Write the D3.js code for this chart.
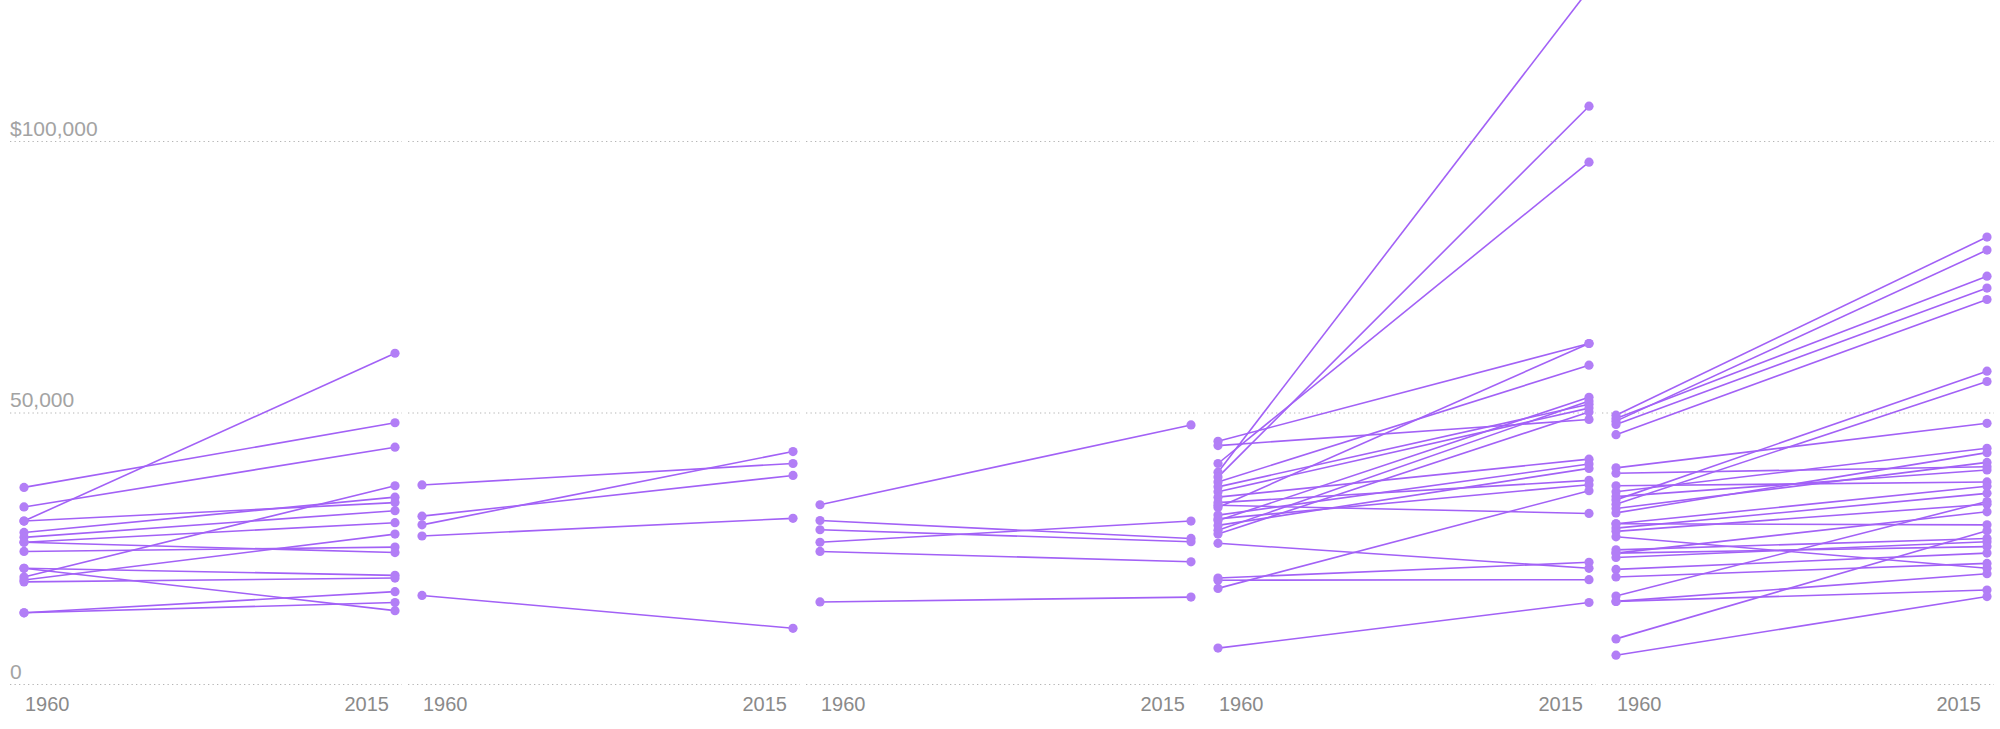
<!DOCTYPE html>
<html>
<head>
<meta charset="utf-8">
<script src="https://cdn.jsdelivr.net/npm/d3@7"></script>
<style>
  html, body { margin: 0; padding: 0; background: #fff; }
  svg { display: block; }
</style>
</head>
<body>
<svg id="chart" width="2000" height="729"></svg>
<script>
// ---- data ----
const years = [1960, 2015];
const yTicks = [0, 50000, 100000];
const yTickLabels = ["0", "50,000", "$100,000"];

const panel1From = [36300, 32700, 30100, 30100, 28000, 27100, 26200, 26200, 24500, 21400, 21400, 19800, 19250, 18900, 13200, 13200];
const panel1To   = [48200, 43700, 61000, 33500, 34500, 32000, 29800, 24300, 25300, 20100, 13600, 36600, 27700, 19600, 17100, 15100];

const panel2From = [36750, 31000, 29400, 27350, 16400];
const panel2To   = [40700, 38500, 42900, 30600, 10350];

const panel3From = [33100, 30200, 28500, 26200, 24500, 15200];
const panel3To   = [47800, 26900, 26300, 30100, 22600, 16100];

const panel4From = [39100, 38200, 40700, 44800, 32600, 37300, 30200, 28400, 36400, 35500, 27700, 44000, 34500, 31200, 29300, 33500, 30500, 17700, 33000, 26000, 19600, 19200, 6700];
const panel4To   = [128000, 106500, 96200, 62800, 62800, 58800, 52900, 52200, 51600, 50900, 50200, 48800, 41500, 40600, 39800, 37600, 36800, 35700, 31500, 21400, 22500, 19300, 15100];

const panel5From = [49600, 48500, 49000, 47900, 46000, 34000, 33200, 39900, 35500, 31600, 32400, 38900, 34600, 36600, 29600, 28800, 16300, 28200, 24200, 29600, 8400, 27200, 24800, 23400, 24200, 21200, 19800, 15300, 15300, 5400];
const panel5To   = [82400, 80000, 75200, 73000, 70900, 57700, 55800, 48100, 43500, 42700, 40900, 40100, 39500, 37300, 36500, 35200, 33700, 33200, 31800, 29400, 28300, 21400, 26900, 26300, 25400, 24200, 22300, 20400, 17400, 16200];

const panels = [
  [panel1From, panel1To],
  [panel2From, panel2To],
  [panel3From, panel3To],
  [panel4From, panel4To],
  [panel5From, panel5To]
];

// ---- layout ----
const svg = d3.select("#chart");
const panelX = d3.scaleLinear().domain([0, 1]).range([10, 408]);
const panelW = 392;
const y = d3.scaleLinear().domain([0, 50000]).range([684.5, 413]);

const lineColor = "#a261f6";
const dotColor = "#b27ef6";

panels.forEach((p, i) => {
  const x0 = panelX(i);
  const x = d3.scaleLinear().domain(years).range([x0 + 14, x0 + 385]);
  const g = svg.append("g");

  // gridlines
  g.selectAll("line.grid").data(yTicks).join("line")
    .attr("class", "grid")
    .attr("x1", x0).attr("x2", x0 + panelW)
    .attr("y1", d => y(d)).attr("y2", d => y(d))
    .attr("stroke", "#b5b5b5")
    .attr("stroke-width", 1.2)
    .attr("stroke-dasharray", "1.3,3.2");

  // year labels
  g.append("text")
    .attr("x", x(years[0]) + 1).attr("y", 711)
    .attr("text-anchor", "start")
    .attr("font-family", "Liberation Sans, Arial, sans-serif")
    .attr("font-size", 20)
    .attr("fill", "#8a8a8a")
    .text(years[0]);
  g.append("text")
    .attr("x", x(years[1]) - 6).attr("y", 711)
    .attr("text-anchor", "end")
    .attr("font-family", "Liberation Sans, Arial, sans-serif")
    .attr("font-size", 20)
    .attr("fill", "#8a8a8a")
    .text(years[1]);

  const pairs = p[0].map((v, k) => [v, p[1][k]]);

  g.selectAll("line.slope").data(pairs).join("line")
    .attr("class", "slope")
    .attr("x1", x(years[0])).attr("x2", x(years[1]))
    .attr("y1", d => y(d[0])).attr("y2", d => y(d[1]))
    .attr("stroke", lineColor)
    .attr("stroke-width", 1.6);

  g.selectAll("circle.from").data(pairs).join("circle")
    .attr("class", "from")
    .attr("cx", x(years[0])).attr("cy", d => y(d[0]))
    .attr("r", 4.6).attr("fill", dotColor);
  g.selectAll("circle.to").data(pairs).join("circle")
    .attr("class", "to")
    .attr("cx", x(years[1])).attr("cy", d => y(d[1]))
    .attr("r", 4.6).attr("fill", dotColor);
});

// y tick labels (left only)
svg.selectAll("text.ytick").data(yTicks).join("text")
  .attr("class", "ytick")
  .attr("x", 10)
  .attr("y", d => y(d) - 6)
  .attr("font-family", "Liberation Sans, Arial, sans-serif")
  .attr("font-size", 21)
  .attr("fill", "#a3a3a3")
  .text((d, i) => yTickLabels[i]);
</script>
</body>
</html>
